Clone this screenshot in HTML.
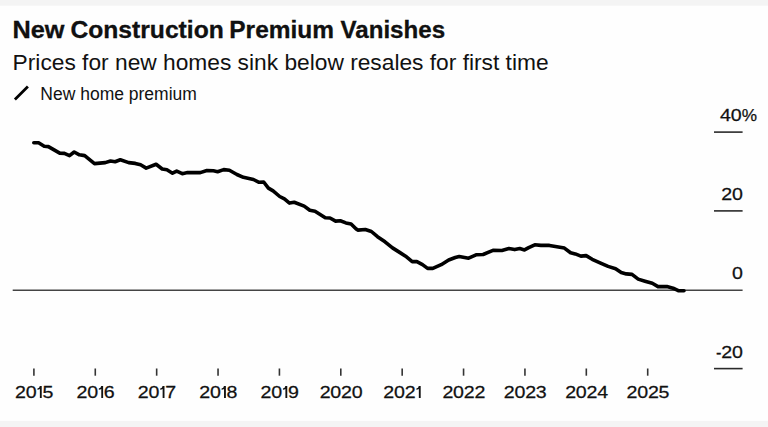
<!DOCTYPE html>
<html><head><meta charset="utf-8">
<style>
html,body{margin:0;padding:0;background:#fff;}
body{width:768px;height:427px;overflow:hidden;position:relative;}
svg{position:absolute;left:0;top:0;}
text{font-family:"Liberation Sans",sans-serif;fill:#111;}
</style></head><body>
<svg width="768" height="427" viewBox="0 0 768 427">
<rect x="0" y="0" width="768" height="427" fill="#fefefe"/>
<rect x="0" y="0" width="768" height="5.7" fill="#f4f4f4"/>
<rect x="0" y="420.9" width="768" height="6.1" fill="#f4f4f4"/>
<g font-size="24.4" font-weight="bold" fill="#050505" stroke="#050505" stroke-width="0.3">
<text x="12.4" y="37.7" textLength="52" lengthAdjust="spacingAndGlyphs">New</text>
<text x="70.4" y="37.7" textLength="153.4" lengthAdjust="spacingAndGlyphs">Construction</text>
<text x="229.3" y="37.7" textLength="104.7" lengthAdjust="spacingAndGlyphs">Premium</text>
<text x="340.5" y="37.7" textLength="104.6" lengthAdjust="spacingAndGlyphs">Vanishes</text>
</g>
<text x="12.6" y="70.3" font-size="22.9" fill="#111" textLength="536" lengthAdjust="spacingAndGlyphs">Prices for new homes sink below resales for first time</text>
<line x1="14.9" y1="99.5" x2="27.9" y2="86.6" stroke="#000" stroke-width="2.8"/>
<text x="40.3" y="100" font-size="17.5" fill="#111">New home premium</text>
<g stroke="#2a2a2a" stroke-width="1.6">
<line x1="714" y1="132.1" x2="742.6" y2="132.1"/>
<line x1="714" y1="210.9" x2="742.6" y2="210.9"/>
<line x1="714" y1="368.6" x2="742.6" y2="368.6"/>
</g>
<line x1="12.7" y1="290.2" x2="742.6" y2="290.2" stroke="#444" stroke-width="1.6"/>
<g font-size="17.2" text-anchor="middle" stroke="#111" stroke-width="0.25"><text transform="translate(725.50,121.2) scale(1.14,1)">4</text><text transform="translate(736.16,121.2) scale(1.14,1)">0</text><text transform="translate(726.70,200.3) scale(1.14,1)">2</text><text transform="translate(737.37,200.3) scale(1.14,1)">0</text><text transform="translate(737.37,279.3) scale(1.14,1)">0</text><text transform="translate(718.64,357.8) scale(0.95,1)">-</text><text transform="translate(726.70,357.8) scale(1.14,1)">2</text><text transform="translate(737.37,357.8) scale(1.14,1)">0</text><text transform="translate(749.4,121.2) scale(1.0,1)">%</text></g>
<g stroke="#333" stroke-width="1.6"><line x1="33.90" y1="368.5" x2="33.90" y2="375.7"/><line x1="95.28" y1="368.5" x2="95.28" y2="375.7"/><line x1="156.66" y1="368.5" x2="156.66" y2="375.7"/><line x1="218.04" y1="368.5" x2="218.04" y2="375.7"/><line x1="279.42" y1="368.5" x2="279.42" y2="375.7"/><line x1="340.80" y1="368.5" x2="340.80" y2="375.7"/><line x1="402.18" y1="368.5" x2="402.18" y2="375.7"/><line x1="463.56" y1="368.5" x2="463.56" y2="375.7"/><line x1="524.94" y1="368.5" x2="524.94" y2="375.7"/><line x1="586.32" y1="368.5" x2="586.32" y2="375.7"/><line x1="647.70" y1="368.5" x2="647.70" y2="375.7"/></g>
<g font-size="17.2" text-anchor="middle" stroke="#111" stroke-width="0.25"><text transform="translate(20.53,397.9) scale(1.14,1)">2</text><text transform="translate(31.20,397.9) scale(1.14,1)">0</text><path stroke="none" fill="#111" d="M39.83,386.10 L41.73,386.10 L41.73,397.90 L39.88,397.90 L39.88,389.00 Q38.93,389.80 37.43,389.80 L37.43,388.40 Q39.53,388.20 39.83,386.10 Z"/><text transform="translate(47.87,397.9) scale(1.14,1)">5</text><text transform="translate(81.91,397.9) scale(1.14,1)">2</text><text transform="translate(92.58,397.9) scale(1.14,1)">0</text><path stroke="none" fill="#111" d="M101.22,386.10 L103.12,386.10 L103.12,397.90 L101.27,397.90 L101.27,389.00 Q100.32,389.80 98.82,389.80 L98.82,388.40 Q100.92,388.20 101.22,386.10 Z"/><text transform="translate(109.25,397.9) scale(1.14,1)">6</text><text transform="translate(143.29,397.9) scale(1.14,1)">2</text><text transform="translate(153.96,397.9) scale(1.14,1)">0</text><path stroke="none" fill="#111" d="M162.59,386.10 L164.49,386.10 L164.49,397.90 L162.64,397.90 L162.64,389.00 Q161.69,389.80 160.19,389.80 L160.19,388.40 Q162.29,388.20 162.59,386.10 Z"/><text transform="translate(170.63,397.9) scale(1.14,1)">7</text><text transform="translate(204.67,397.9) scale(1.14,1)">2</text><text transform="translate(215.34,397.9) scale(1.14,1)">0</text><path stroke="none" fill="#111" d="M223.98,386.10 L225.88,386.10 L225.88,397.90 L224.03,397.90 L224.03,389.00 Q223.08,389.80 221.58,389.80 L221.58,388.40 Q223.68,388.20 223.98,386.10 Z"/><text transform="translate(232.01,397.9) scale(1.14,1)">8</text><text transform="translate(266.05,397.9) scale(1.14,1)">2</text><text transform="translate(276.72,397.9) scale(1.14,1)">0</text><path stroke="none" fill="#111" d="M285.36,386.10 L287.26,386.10 L287.26,397.90 L285.41,397.90 L285.41,389.00 Q284.46,389.80 282.96,389.80 L282.96,388.40 Q285.06,388.20 285.36,386.10 Z"/><text transform="translate(293.39,397.9) scale(1.14,1)">9</text><text transform="translate(325.10,397.9) scale(1.14,1)">2</text><text transform="translate(335.77,397.9) scale(1.14,1)">0</text><text transform="translate(346.44,397.9) scale(1.14,1)">2</text><text transform="translate(357.11,397.9) scale(1.14,1)">0</text><text transform="translate(388.81,397.9) scale(1.14,1)">2</text><text transform="translate(399.48,397.9) scale(1.14,1)">0</text><text transform="translate(410.15,397.9) scale(1.14,1)">2</text><path stroke="none" fill="#111" d="M418.79,386.10 L420.69,386.10 L420.69,397.90 L418.84,397.90 L418.84,389.00 Q417.89,389.80 416.39,389.80 L416.39,388.40 Q418.49,388.20 418.79,386.10 Z"/><text transform="translate(447.86,397.9) scale(1.14,1)">2</text><text transform="translate(458.53,397.9) scale(1.14,1)">0</text><text transform="translate(469.20,397.9) scale(1.14,1)">2</text><text transform="translate(479.87,397.9) scale(1.14,1)">2</text><text transform="translate(509.24,397.9) scale(1.14,1)">2</text><text transform="translate(519.91,397.9) scale(1.14,1)">0</text><text transform="translate(530.58,397.9) scale(1.14,1)">2</text><text transform="translate(541.25,397.9) scale(1.14,1)">3</text><text transform="translate(570.62,397.9) scale(1.14,1)">2</text><text transform="translate(581.28,397.9) scale(1.14,1)">0</text><text transform="translate(591.95,397.9) scale(1.14,1)">2</text><text transform="translate(602.62,397.9) scale(1.14,1)">4</text><text transform="translate(632.00,397.9) scale(1.14,1)">2</text><text transform="translate(642.66,397.9) scale(1.14,1)">0</text><text transform="translate(653.33,397.9) scale(1.14,1)">2</text><text transform="translate(664.00,397.9) scale(1.14,1)">5</text></g>
<path d="M33.8,142.8 L38.6,142.8 L44.2,146.3 L48.4,146.6 L59.7,153.1 L64.4,153.4 L69.5,155.7 L74.2,152 L79.4,154.8 L84.7,155.6 L94.5,163.6 L105.3,162.6 L110.5,161 L115.1,161.7 L120.3,159.8 L128.7,162.6 L135.3,163.4 L140.6,164.8 L146.2,168.1 L156.1,164.3 L162.2,169 L166.9,169.8 L172.5,173.2 L176.7,171.1 L182.3,173.7 L187.5,172.6 L200.3,172.6 L206.9,170.5 L213.4,170.8 L217.6,171.7 L223.7,169.6 L229.4,170.3 L236.9,174.5 L243.4,177.3 L253.4,179.5 L259.1,182.3 L263.7,182 L268.4,188.1 L273.1,190.9 L279.7,196.5 L284.4,198.9 L289.5,203.1 L294.2,202.2 L304.2,206.1 L309.8,210.3 L315,211.2 L325.3,217.8 L330,218 L335.6,221.1 L340.3,220.8 L345.9,222.9 L351.1,223.9 L356.2,229 L357.8,230.1 L365.3,229.5 L371.4,231.5 L377.5,236.7 L385,241.8 L392.5,247.9 L400,252.6 L405.6,256.2 L412.2,261.6 L416.9,261.6 L422.5,264.6 L427.6,268.4 L432.8,268.4 L441.2,264.7 L448.7,260 L455.3,257.5 L459.2,256.5 L468.6,258.2 L476.6,254.7 L483.1,254.5 L493,250.4 L501.9,250.5 L508.9,248.6 L514.7,249.6 L519.8,248.6 L524.5,249.9 L528.7,247.6 L534.8,244.8 L540.9,245.4 L549.4,245.4 L556.9,246.8 L564.4,248.1 L570.6,252.8 L575.3,253.9 L580.9,256.1 L586.1,255.6 L592.2,259.3 L600.6,263.1 L608.1,266.4 L615.6,268.7 L621.2,272.5 L626.3,273.9 L632,274.35 L638.2,279.1 L645,281.2 L652.3,283.3 L658,286.6 L666.9,286.6 L673.1,288.2 L678.3,290.7 L684,290.7" fill="none" stroke="#000" stroke-width="3.6" stroke-linejoin="round" stroke-linecap="round"/>
</svg>
</body></html>
